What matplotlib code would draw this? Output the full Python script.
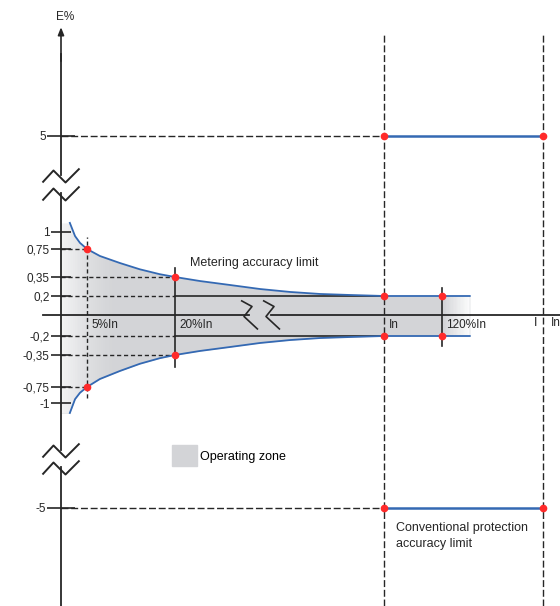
import numpy as np
import matplotlib.pyplot as plt
from matplotlib.path import Path
from matplotlib.patches import Patch

# schematic (broken) scales: value -> position on the 560x606 canvas
x_anchor_val = [-25, 0, 5, 20, 100, 120, 160, 166.7]
x_anchor_px = [0, 61, 87, 175, 384, 442, 543, 560]
y_anchor_val = [-6, -5, -1, -0.75, -0.35, -0.2, 0, 0.2, 0.35, 0.75, 1, 5, 6]
y_anchor_px = [606, 508, 403, 387, 355, 336, 315, 296, 277, 249, 232, 136, 0]

# chart data
y_ticks = [1, 0.75, 0.35, 0.2, -0.2, -0.35, -0.75, -1]
y_tick_labels = ["1", "0,75", "0,35", "0,2", "-0,2", "-0,35", "-0,75", "-1"]
limit_ticks = [5, -5]
limit_tick_labels = ["5", "-5"]

current_pts = [5, 20, 100, 120]          # % of In
current_labels = ["5%In", "20%In", "In", "120%In"]
metering_limit = [0.75, 0.35, 0.2, 0.2]  # E% at those currents

curve_x = [1.7, 2.7, 3.65, 5, 7.2, 10.6, 14.0, 17.4, 20, 29.6, 41, 52.6,
           64, 75.5, 87, 100, 120, 131]
curve_upper = [1.38, 0.94, 0.84, 0.75, 0.65, 0.55, 0.46, 0.39, 0.35, 0.318,
               0.287, 0.255, 0.232, 0.216, 0.208, 0.2, 0.2, 0.2]

protection_x = [100, 160]
protection_limit = 5

zone_color = "#d3d4d7"
dark = "#262626"
blue = "#3469b3"
red = "#ff2a2a"

plt.rcParams["font.family"] = ["Liberation Sans", "DejaVu Sans"]


def fwd_x(v):
    return np.interp(v, x_anchor_val, x_anchor_px)


def inv_x(p):
    return np.interp(p, x_anchor_px, x_anchor_val)


def fwd_y(v):
    return -np.interp(v, y_anchor_val, y_anchor_px)


def inv_y(s):
    return np.interp(-np.asarray(s), y_anchor_px[::-1], y_anchor_val[::-1])


fig = plt.figure(figsize=(5.6, 6.06), dpi=100)
ax = fig.add_axes([0, 0, 1, 1])
ax.set_xscale("function", functions=(fwd_x, inv_x))
ax.set_yscale("function", functions=(fwd_y, inv_y))
ax.set_xlim(-25, 166.7)
ax.set_ylim(-6, 6)
for s in ax.spines.values():
    s.set_visible(False)
ax.spines["left"].set_position(("data", 0))

cx = np.array(curve_x)
cu = np.array(curve_upper)

# operating zone with faded ends
zone = ax.fill_between(np.r_[0, cx], -np.r_[cu[0], cu], np.r_[cu[0], cu],
                       color=zone_color, lw=0, zorder=1)
zone_path = zone.get_paths()[0]
edges = np.linspace(0, 10, 31)
for i in range(len(edges) - 1):
    t = i / (len(edges) - 1)
    r = ax.axvspan(edges[i], edges[i + 1], color="white", lw=0,
                   alpha=0.75 * (1 - t) ** 1.5, antialiased=False, zorder=1.1)
    r.set_clip_path(zone_path, ax.transData)
edges = np.linspace(121, 132, 21)
for i in range(len(edges) - 1):
    t = (i + 1) / (len(edges) - 1)
    r = ax.axvspan(edges[i], edges[i + 1], color="white", lw=0,
                   alpha=min(1, t ** 0.9), antialiased=False, zorder=1.1)
    r.set_clip_path(zone_path, ax.transData)

# guide lines
kw_d = dict(color=dark, lw=1.0, dashes=(3, 2), zorder=2)
for xv, yv in zip(current_pts[:2], metering_limit[:2]):
    ax.plot([0, xv], [yv, yv], **kw_d)
    ax.plot([0, xv], [-yv, -yv], **kw_d)
ax.plot([0, 20], [0.2, 0.2], **kw_d)
ax.plot([0, 20], [-0.2, -0.2], **kw_d)
ax.plot([20, 100], [0.2, 0.2], color=dark, lw=1.2, zorder=2)
ax.plot([20, 100], [-0.2, -0.2], color=dark, lw=1.2, zorder=2)

ax.plot([current_pts[0]] * 2, [-0.92, 0.92], **kw_d)
ax.plot([current_pts[1]] * 2, [-0.5, 0.48], color=dark, lw=1.2, zorder=2)
ax.plot([current_pts[3]] * 2, [-0.28, 0.26], color=dark, lw=1.2, zorder=2)

kw_long = dict(color=dark, lw=1.0, dashes=(5, 2), zorder=2)
for xv in protection_x:
    ax.plot([xv, xv], [-6, 5.74], **kw_long)
for yv in (protection_limit, -protection_limit):
    ax.plot([0, protection_x[0]], [yv, yv], **kw_long)
    ax.plot(protection_x, [yv, yv], color=blue, lw=1.8, zorder=3)
    ax.plot(protection_x, [yv, yv], "o", color=red, ms=4.5, zorder=4)

# metering accuracy curves
ax.plot(cx, cu, color=blue, lw=1.3, zorder=3)
ax.plot(cx, -cu, color=blue, lw=1.3, zorder=3)
ax.plot(current_pts, metering_limit, "o", color=red, ms=4.5, zorder=4)
ax.plot(current_pts, -np.array(metering_limit), "o", color=red, ms=4.5, zorder=4)

# axes with breaks
for y0, y1 in [(-6, -3.44), (-2.79, 2.625), (3.375, 5.6)]:
    ax.plot([0, 0], [y0, y1], color=dark, lw=1.3, zorder=3)
ax.annotate("", xy=(0, 5.8), xytext=(0, 5.55),
            arrowprops=dict(arrowstyle="-|>,head_length=0.45,head_width=0.18",
                            color=dark, lw=1.2, shrinkA=0, shrinkB=0))
for x0, x1 in [(-7.4, 48.2), (56.6, 166.7)]:
    ax.plot([x0, x1], [0, 0], color=dark, lw=1.3, zorder=3)

zig_y = Path([(-19, -7), (-8, 5), (4, -7), (18, 7)])
ax.plot([0, 0, 0, 0], [3.375, 2.625, -2.79, -3.44], ls="none", marker=zig_y,
        ms=27.4, mfc="none", mec=dark, mew=1.4, zorder=4)
zig_x = Path([(-8.5, 15), (2.5, 9), (-5.5, -1), (8.5, -14)])
ax.plot([48.2, 56.6], [0, 0], ls="none", marker=zig_x,
        ms=21.6, mfc="none", mec=dark, mew=1.2, zorder=4)

# ticks
ax.set_xticks([])
ax.set_yticks(y_ticks, y_tick_labels)
ax.set_yticks(limit_ticks, limit_tick_labels, minor=True)
ax.tick_params(axis="y", which="major", direction="inout", length=14.4,
               width=1.2, pad=1, labelsize=8.5, colors=dark)
ax.tick_params(axis="y", which="minor", direction="inout", length=20,
               width=1.2, pad=1, labelsize=8.5, colors=dark)

# labels
fs = 8.5
for xv, lab in zip(current_pts, current_labels):
    ax.annotate(lab, (xv, 0), xytext=(3.2, -7), textcoords="offset points",
                fontsize=fs, va="center", ha="left", color=dark)
ax.text(157.2, -0.08, "I", fontsize=9, va="center", ha="center", color=dark)
ax.text(163.2, -0.08, "In", fontsize=fs, va="center", ha="left", color=dark)
ax.text(0.8, 5.875, "E%", fontsize=fs, va="center", ha="center", color=dark)
ax.text(25.7, 0.55, "Metering accuracy limit", fontsize=9, va="center",
        ha="left", color=dark)
ax.text(104.1, -5.14, "Conventional protection\naccuracy limit", fontsize=9,
        va="top", ha="left", color=dark, linespacing=1.5)

ax.legend(handles=[Patch(color=zone_color, label="Operating zone")],
          loc="upper left", bbox_to_anchor=(172 / 560, 1 - 445 / 606),
          frameon=False, fontsize=9, handlelength=2.0, handleheight=2.24,
          handletextpad=0.25, borderpad=0, borderaxespad=0)

fig.savefig("out.png", dpi=100)
